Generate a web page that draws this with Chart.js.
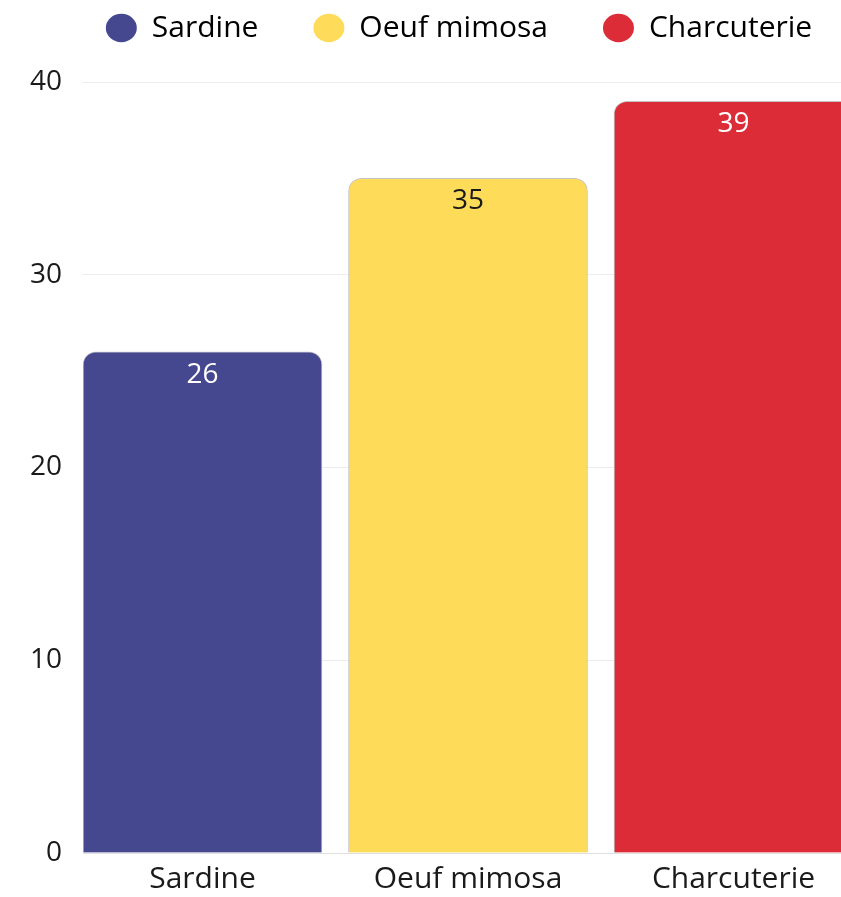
<!DOCTYPE html>
<html>
<head>
<meta charset="utf-8">
<script src="https://cdn.jsdelivr.net/npm/chart.js@4/dist/chart.umd.min.js"></script>
<style>
  html, body { margin: 0; padding: 0; background: #fff; overflow: hidden; }
  #wrap { width: 918px; height: 897px; }
</style>
</head>
<body>
<div id="wrap"><canvas id="barChart"></canvas></div>
<script>
const categories = ['Sardine', 'Oeuf mimosa', 'Charcuterie'];
const values = [26, 35, 39];
const barColors = ['#45478f', '#fedc5a', '#dc2c38'];
const valueColors = ['#ffffff', '#1a1a1a', '#ffffff'];
const yTicks = [0, 10, 20, 30, 40];

Chart.defaults.font.family = "'Open Sans', sans-serif";
Chart.defaults.color = '#1a1a1a';

// numbers written inside the top of each bar
const valueLabels = {
    id: 'valueLabels',
    afterDatasetsDraw(chart) {
        const ctx = chart.ctx;
        const meta = chart.getDatasetMeta(0);
        ctx.save();
        ctx.font = "28px 'Open Sans', sans-serif";
        ctx.textAlign = 'center';
        ctx.textBaseline = 'middle';
        meta.data.forEach((bar, i) => {
            ctx.fillStyle = valueColors[i];
            ctx.fillText(values[i], bar.x, bar.y + 23);
        });
        ctx.restore();
    }
};

// a bit more room under the legend
const legendSpacing = {
    id: 'legendSpacing',
    beforeInit(chart) {
        const fit = chart.legend.fit;
        chart.legend.fit = function () {
            fit.call(this);
            this.height += 29;
        };
    }
};

const ctx = document.getElementById('barChart').getContext('2d');
const myChart = new Chart(ctx, {
    type: 'bar',
    data: {
        datasets: [{
            label: 'Entrées',
            data: values.map((v, i) => ({ x: i, y: v })),
            backgroundColor: barColors,
            borderColor: '#c4c4c4',
            borderWidth: 1,
            borderRadius: 13,
            barThickness: 239
        }]
    },
    options: {
        responsive: true,
        maintainAspectRatio: false,
        animation: false,
        layout: { padding: { top: -42, left: 0, right: 0, bottom: -8 } },
        plugins: {
            legend: {
                position: 'top',
                onClick: null,
                labels: {
                    usePointStyle: true,
                    pointStyleWidth: 31,
                    boxHeight: 20,
                    padding: 55,
                    font: { size: 30 },
                    generateLabels: () => categories.map((c, i) => ({
                        text: c,
                        fillStyle: barColors[i],
                        strokeStyle: barColors[i],
                        lineWidth: 0,
                        pointStyle: 'circle',
                        hidden: false,
                        index: i,
                        datasetIndex: 0
                    }))
                }
            },
            tooltip: { enabled: false }
        },
        scales: {
            x: {
                type: 'linear',
                offset: false,
                min: -0.4501,
                max: 2.6949,
                bounds: 'data',
                grid: { display: false, drawTicks: false },
                border: { color: '#e0e0e0' },
                afterBuildTicks: (scale) => {
                    scale.ticks = categories.map((c, i) => ({ value: i }));
                },
                ticks: {
                    padding: 8,
                    maxRotation: 0,
                    font: { size: 30 },
                    callback: (v) => categories[v]
                }
            },
            y: {
                min: 0,
                max: 40,
                grid: { color: '#ececec', drawTicks: false },
                border: { display: false },
                afterBuildTicks: (scale) => {
                    scale.ticks = yTicks.map(v => ({ value: v }));
                },
                afterFit: (scale) => { scale.width = 83; },
                ticks: {
                    padding: 21,
                    font: { size: 28 }
                }
            }
        }
    },
    plugins: [valueLabels, legendSpacing]
});
</script>
</body>
</html>
